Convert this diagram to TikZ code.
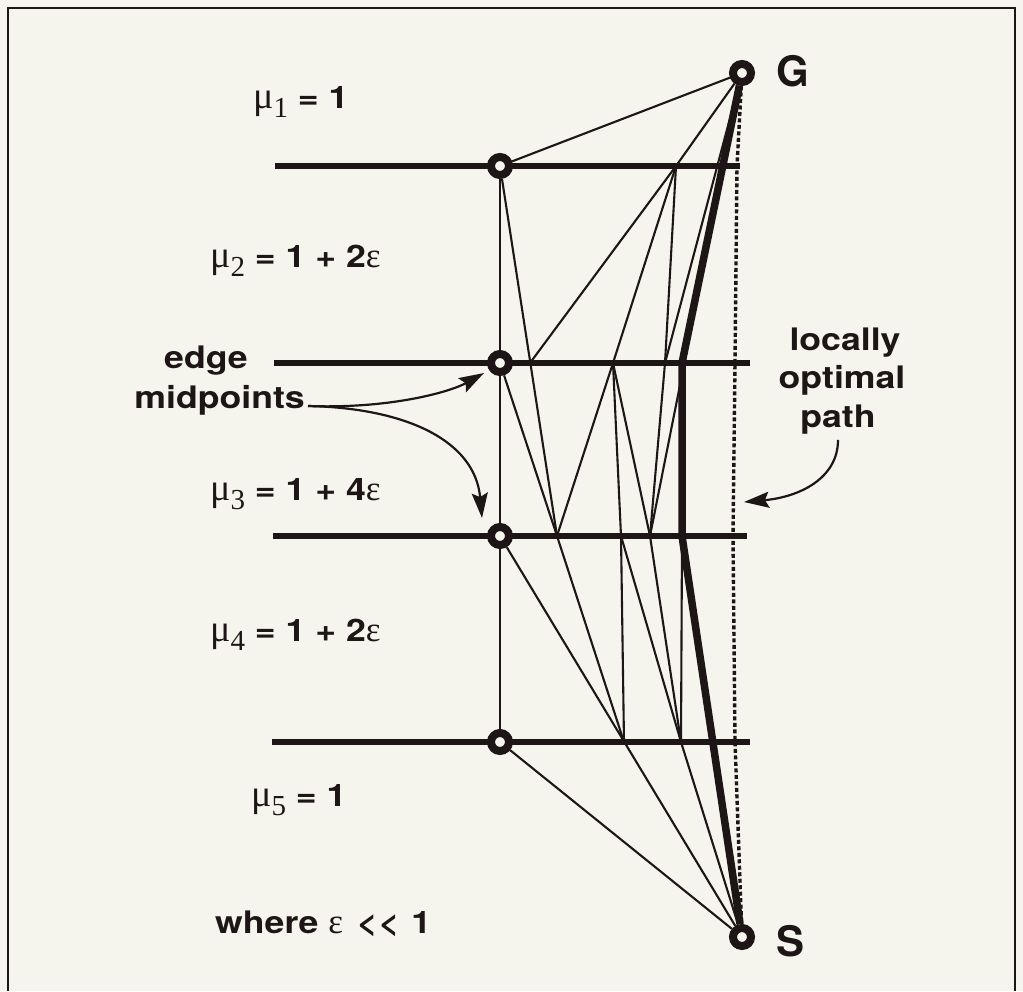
\documentclass[tikz,border=0pt]{standalone}
\usepackage{fontspec}
\setmainfont{TeX Gyre Heros}[FakeStretch=1.15]
\newfontfamily\bigf{TeX Gyre Heros}
\newfontfamily\symf{Liberation Serif}
\usetikzlibrary{arrows.meta}
\definecolor{bg}{RGB}{245,245,238}
\definecolor{ink}{RGB}{30,22,22}
\newcommand\gmu{{\symf\mdseries\fontsize{38}{38}\selectfont μ}}
\newcommand\geps{{\symf\mdseries\fontsize{35}{35}\selectfont ε}}
\newcommand\musub[1]{\raisebox{-9pt}{\symf\mdseries\fontsize{29}{29}\selectfont #1}}
\begin{document}
\begin{tikzpicture}[x=1pt,y=-1pt,
  lbl/.style={font=\fontsize{31}{36}\selectfont\bfseries, text=ink, inner sep=0pt},
  big/.style={font=\bigf\fontsize{42}{42}\selectfont\bfseries, text=ink, inner sep=0pt},
  ring/.style={circle, draw=ink, fill=bg, line width=8pt, minimum size=18pt, inner sep=0pt},
  barline/.style={draw=ink, line width=6.5pt},
  thinline/.style={draw=ink, line width=2.1pt},
  optpath/.style={draw=ink, line width=7.5pt, line join=round},
  dotline/.style={draw=ink, line width=3.4pt, dash pattern=on 4pt off 2.5pt},
  pointer/.style={draw=ink, line width=2.2pt, -{Stealth[length=25pt,width=16pt,inset=4pt]}}
]
\fill[bg] (0,0) rectangle (1023,991);
\useasboundingbox (0,0) rectangle (1023,991);
\draw[ink, line width=1.5pt] (8,991) -- (8,8) -- (1015,8) -- (1015,991);

% region boundaries
\coordinate (L1a) at (275,166); \coordinate (L1b) at (740,166);
\coordinate (L2a) at (274,363); \coordinate (L2b) at (750,363);
\coordinate (L3a) at (273,536); \coordinate (L3b) at (747,536);
\coordinate (L4a) at (272,742); \coordinate (L4b) at (750,742);
\draw[barline] (L1a) -- (L1b);
\draw[barline] (L2a) -- (L2b);
\draw[barline] (L3a) -- (L3b);
\draw[barline] (L4a) -- (L4b);

% crossing points
\coordinate (P1) at (676,166);
\coordinate (A2) at (530,363); \coordinate (B2) at (613,363);
\coordinate (C2) at (665,363); \coordinate (T2) at (682,363);
\coordinate (A3) at (557,536); \coordinate (B3) at (621,536);
\coordinate (C3) at (650,536); \coordinate (T3) at (682,536);
\coordinate (B4) at (624,742); \coordinate (C4) at (681,742);
\coordinate (D1) at (737,166); \coordinate (D2) at (735,363);
\coordinate (D3) at (733,536); \coordinate (D4) at (735,742);
\coordinate (lopTip) at (744,502);

% vertices
\node[ring] (G) at (742,73) {};
\node[ring] (S) at (742,937) {};
\node[ring] (M1) at (500,166) {};
\node[ring] (M2) at (500,363) {};
\node[ring] (M3) at (500,536) {};
\node[ring] (M4) at (500,742) {};

% thin path network
\draw[thinline] (M1) -- (M2) -- (M3) -- (M4);
\draw[thinline] (G) -- (M1);
\draw[thinline] (G) -- (P1);
\draw[thinline] (G) -- (C2);
\draw[thinline] (G) -- (C3);
\draw[thinline] (P1) -- (A2);
\draw[thinline] (P1) -- (B2);
\draw[thinline] (P1) -- (C2);
\draw[thinline] (M1) -- (A3);
\draw[thinline] (M2) -- (A3);
\draw[thinline] (B2) -- (A3);
\draw[thinline] (B2) -- (B3);
\draw[thinline] (B2) -- (C3);
\draw[thinline] (C2) -- (C3);
\draw[thinline] (M3) -- (S);
\draw[thinline] (A3) -- (B4);
\draw[thinline] (B3) -- (B4);
\draw[thinline] (B3) -- (C4);
\draw[thinline] (C3) -- (C4);
\draw[thinline] (T3) -- (C4);
\draw[thinline] (C4) -- (S);
\draw[thinline] (M4) -- (S);

% thick and dotted paths
\draw[optpath] (G) -- (T2) -- (T3) -- (S);
\draw[dotline] (G) -- (D1) -- (D2) -- (D3) -- (D4) -- (S);

% labels
\node[lbl,anchor=base west] (mu1) at (253,108) {\gmu\musub{1} = 1};
\node[lbl,anchor=base west] (mu2) at (210,267) {\gmu\musub{2} = 1 + 2\geps};
\node[lbl,anchor=base west] (mu3) at (210,500) {\gmu\musub{3} = 1 + 4\geps};
\node[lbl,anchor=base west] (mu4) at (210,641) {\gmu\musub{4} = 1 + 2\geps};
\node[lbl,anchor=base west] (mu5) at (251,806) {\gmu\musub{5} = 1};
\node[lbl,anchor=base west] (where) at (215,933) {where \geps\kern4pt\ <\kern1pt<\kern2pt\ 1};
\node[lbl,anchor=base] (edge) at (206,368) {edge};
\node[lbl,anchor=base east] (midp) at (305,408) {midpoints};
\node[lbl,anchor=base] (loc) at (845,350) {locally};
\node[lbl,anchor=base] (opt) at (842,388) {optimal};
\node[lbl,anchor=base] (pth) at (838,427) {path};
\node[big,anchor=base west] (Glab) at (776,86) {G};
\node[big,anchor=base west] (Slab) at (776,956) {S};

% pointers
\draw[pointer] ([xshift=3pt,yshift=2pt]midp.base east) .. controls (390,409) and (450,392) .. ([shift={(-16pt,-10pt)}]M2.center);
\draw[pointer] ([xshift=3pt,yshift=2pt]midp.base east) .. controls (405,408) and (475,440) .. ([shift={(-18pt,18pt)}]M3.center);
\draw[pointer] ([yshift=-6pt]pth.south) .. controls (838,478) and (800,497) .. (lopTip);
\end{tikzpicture}
\end{document}
